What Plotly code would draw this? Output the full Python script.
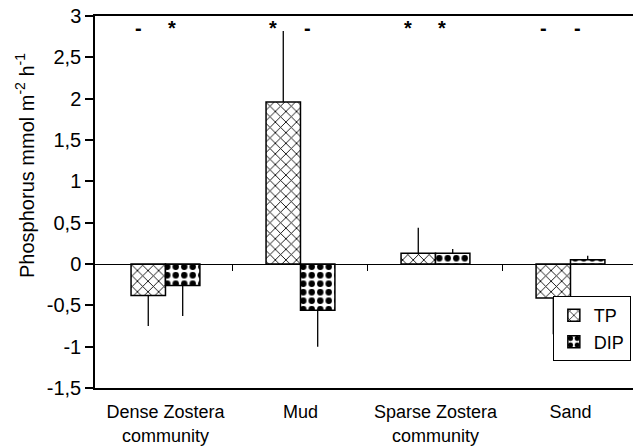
import plotly.graph_objects as go

categories = ["Dense Zostera<br>community", "Mud", "Sparse Zostera<br>community", "Sand"]
tp_values = [-0.38, 1.96, 0.13, -0.41]
tp_errors = [0.37, 0.86, 0.31, 0.44]
dip_values = [-0.26, -0.56, 0.13, 0.05]
dip_errors = [0.37, 0.44, 0.05, 0.05]
tp_sig = ["-", "*", "*", "-"]
dip_sig = ["*", "-", "*", "-"]
y_ticks = [3, 2.5, 2, 1.5, 1, 0.5, 0, -0.5, -1, -1.5]
y_ticktext = ["3", "2,5", "2", "1,5", "1", "0,5", "0", "-0,5", "-1", "-1,5"]

FONT = "Liberation Sans, Arial, sans-serif"
X_RANGE = [-0.522, 3.463]


def one_sided(vals, errs):
    up = [e if v > 0 else 0 for v, e in zip(vals, errs)]
    down = [e if v < 0 else 0 for v, e in zip(vals, errs)]
    return up, down


tp_up, tp_down = one_sided(tp_values, tp_errors)
dip_up, dip_down = one_sided(dip_values, dip_errors)

fig = go.Figure()
fig.add_trace(go.Bar(
    name="TP", x=categories, y=tp_values,
    marker=dict(color="white", line=dict(color="black", width=1.5),
                pattern=dict(shape="x", fgcolor="black", bgcolor="white",
                             size=7.5, solidity=0.22, fgopacity=1)),
    error_y=dict(type="data", symmetric=False, array=tp_up, arrayminus=tp_down,
                 color="black", thickness=1.3, width=0),
))
fig.add_trace(go.Bar(
    name="DIP", x=categories, y=dip_values,
    marker=dict(color="white", line=dict(color="black", width=1.5),
                pattern=dict(shape=".", fgcolor="black", bgcolor="white",
                             size=8.5, solidity=0.45, fgopacity=1)),
    error_y=dict(type="data", symmetric=False, array=dip_up, arrayminus=dip_down,
                 color="black", thickness=1.3, width=0),
))

for i, c in enumerate(categories):
    for sig, shift in ((tp_sig[i], -27), (dip_sig[i], 7)):
        fig.add_annotation(x=c, y=2.86, xref="x", yref="y", text="<b>" + sig + "</b>",
                           showarrow=False, xshift=shift, yanchor="middle",
                           font=dict(family=FONT, size=20, color="black"))

fig.add_annotation(xref="paper", yref="paper", x=-0.130, xanchor="center",
                   y=0.597, yanchor="middle", textangle=-90, showarrow=False,
                   text="Phosphorus mmol m<sup>-2</sup> h<sup>-1</sup>",
                   font=dict(family=FONT, size=20, color="black"))

fig.update_layout(
    width=633, height=446,
    margin=dict(l=95, r=0, t=16, b=58),
    paper_bgcolor="white", plot_bgcolor="white",
    barmode="group", bargap=0.49, bargroupgap=0,
    font=dict(family=FONT, size=18, color="black"),
    showlegend=True,
    legend=dict(x=0.996, xanchor="right", y=0.247, yanchor="top",
                bordercolor="black", borderwidth=1, bgcolor="white",
                font=dict(family=FONT, size=18, color="black"),
                itemwidth=30, tracegroupgap=0),
    xaxis=dict(showline=True, mirror=True, linecolor="black", linewidth=1.5,
               ticks="", showgrid=False, zeroline=False, automargin=False,
               range=X_RANGE,
               tickfont=dict(family=FONT, size=18, color="black"),
               ticklabelstandoff=7),
    xaxis2=dict(overlaying="x", anchor="free", position=1/3, range=X_RANGE,
                tickvals=[0.5, 1.5, 2.5], ticks="outside", ticklen=6,
                tickcolor="black", tickwidth=1, showticklabels=False,
                showline=True, linecolor="black", linewidth=1,
                showgrid=False, zeroline=False, fixedrange=True),
    yaxis=dict(range=[-1.5, 3], tickvals=y_ticks, ticktext=y_ticktext,
               ticks="outside", ticklen=8, automargin=False,
               tickcolor="black", tickwidth=1.5, showline=True,
               linecolor="black", linewidth=1.5, showgrid=False,
               zeroline=False,
               tickfont=dict(family=FONT, size=20, color="black")),
)

fig.add_trace(go.Scatter(x=[0], y=[0], xaxis="x2", yaxis="y", mode="markers",
                         marker=dict(opacity=0), showlegend=False,
                         hoverinfo="skip"))

fig.write_html("out.html")
